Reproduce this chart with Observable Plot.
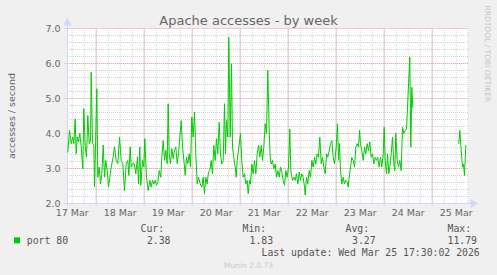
<!DOCTYPE html>
<html><head><meta charset="utf-8">
<script src="https://cdn.jsdelivr.net/npm/d3@7"></script>
<script src="https://cdn.jsdelivr.net/npm/@observablehq/plot@0.6"></script>
<style>
html,body{margin:0;padding:0;background:#f0f0f0;}
#chart{width:497px;height:275px;overflow:hidden;}
#chart svg{display:block;}
</style></head><body><div id="chart"></div>
<script>
const title = "Apache accesses - by week";
const yLabel = "accesses / second";
const seriesName = "port 80";
const vendor = "RRDTOOL / TOBI OETIKER";
const credit = "Munin 2.0.73";
const lastUpdate = "Last update: Wed Mar 25 17:30:02 2026";
const statHeaders = ["Cur:", "Min:", "Avg:", "Max:"];
const statValues = ["2.38", "1.83", "3.27", "11.79"];
const dayLabels = ["17 Mar","18 Mar","19 Mar","20 Mar","21 Mar","22 Mar","23 Mar","24 Mar","25 Mar"];
const yTicks = [2, 3, 4, 5, 6, 7];

// hours since 17 Mar 2026 00:00 (UTC) and accesses/second
const hours = [
9.8,10.65,11.5,12.3,12.8,13.5,14.0,14.5,15.15,15.8,16.5,17.3,17.8,18.5,19.15,19.8,20.5,21.15,21.5,22.15,22.8,23.15,23.65,24.3,24.8,25.5,26.15,26.8,27.5,28.15,28.8,29.5,30.15,30.8,31.5,32.5,33.15,34.0,34.8,35.65,36.5,37.3,38.15,39.0,39.8,40.3,41.0,41.5,42.3,
43.0,43.8,44.65,45.15,45.8,46.3,47.15,47.8,48.3,49.15,50.0,50.8,51.5,52.15,52.8,53.5,54.15,54.8,55.5,56.3,56.8,57.5,58.15,58.8,59.5,60.0,60.5,61.15,61.8,62.5,63.15,63.8,64.5,65.15,65.8,66.5,67.15,68.0,68.5,69.15,69.8,70.5,71.15,71.8,72.5,73.15,73.8,74.5,75.15,76.0,76.8,
77.5,78.15,78.8,79.5,80.15,80.8,81.5,82.15,82.8,83.5,84.15,84.8,85.5,86.15,86.8,87.5,88.15,88.65,89.15,89.8,90.3,91.0,91.65,92.15,92.8,93.5,94.0,94.5,95.3,96.15,96.8,97.5,98.15,98.8,99.5,100.0,100.65,101.15,101.8,102.5,103.15,103.8,104.5,105.15,105.8,106.5,107.15,107.8,108.5,109.15,109.8,110.5,
111.0,111.5,112.15,112.8,113.5,114.15,114.8,115.5,116.15,116.8,117.5,118.15,118.8,119.5,120.15,120.8,121.3,122.15,122.8,123.5,124.15,124.8,125.5,126.15,126.8,127.5,128.15,128.5,129.15,129.8,130.5,131.15,131.8,132.5,133.15,133.8,134.5,135.15,135.8,136.5,137.15,137.8,138.5,139.15,139.8,140.5,141.15,141.8,142.5,143.15,144.0,144.65,
145.15,145.65,146.15,146.8,147.5,148.15,148.8,149.5,150.0,150.5,151.15,151.8,152.5,153.15,153.8,154.5,155.15,155.65,156.15,156.8,157.5,158.15,158.8,159.5,160.15,160.8,161.5,162.15,162.8,163.5,164.15,164.8,165.5,166.15,166.8,167.5,168.0,168.5,169.15,169.65,170.3,170.8,171.5,172.15,172.8,173.3,173.8,174.5,175.15,175.8,176.5,177.15,177.8,178.5,179.15,
180.8,181.3,181.8,182.3,183.0,
205.3,205.8,206.5,207.15,207.65,208.15,208.8
];
const accesses = [
3.47,4.09,3.71,3.9,3.71,4.42,3.42,3.9,3.76,4.0,3.62,2.99,4.71,3.62,3.33,4.51,3.71,3.8,5.75,3.71,3.67,2.47,3.62,5.28,2.75,3.04,2.56,2.85,3.67,2.75,3.23,2.94,2.47,2.75,3.04,3.33,3.62,3.23,3.14,3.9,3.23,3.14,2.37,3.14,3.23,2.8,3.62,3.04,3.14,
3.14,2.85,3.33,2.56,3.62,2.52,3.23,3.04,3.85,2.75,2.37,2.66,2.47,2.66,2.56,2.66,2.52,2.61,2.94,2.75,3.33,3.8,3.23,3.52,3.14,4.85,3.42,3.14,3.57,3.28,3.52,3.62,3.14,3.42,3.9,4.37,3.62,3.14,2.8,3.33,3.14,3.42,3.04,4.47,3.9,4.61,3.42,2.56,2.75,2.56,2.47,
2.75,2.28,2.75,2.56,2.9,2.94,3.23,2.85,3.66,3.23,3.85,3.42,4.32,3.42,3.13,3.23,4.85,3.42,4.37,3.9,6.75,3.9,5.99,3.61,3.32,3.04,2.75,3.23,3.61,4.0,3.23,2.75,2.85,2.56,2.66,2.28,2.66,2.56,3.13,2.85,3.23,2.85,3.42,3.66,3.32,3.66,3.23,3.61,4.28,4.0,5.8,4.09,
3.32,3.13,3.23,2.99,3.13,2.75,2.94,2.75,3.04,2.9,2.66,2.52,2.94,2.75,3.04,4.13,2.94,2.66,2.75,2.66,2.85,2.56,2.9,2.66,2.85,2.75,2.47,2.24,2.75,2.56,2.94,2.75,3.23,3.04,3.32,3.13,3.42,3.32,3.9,3.13,3.32,3.04,2.85,3.42,3.32,3.51,3.71,3.8,3.32,3.13,3.61,4.28,
3.23,3.71,2.94,2.56,2.75,2.56,2.66,2.61,2.47,2.75,3.04,3.32,3.23,3.04,3.61,3.71,3.61,4.09,3.71,3.51,3.23,3.61,3.42,3.71,3.51,3.76,3.32,3.42,3.13,3.32,3.23,3.32,3.04,3.32,3.04,3.42,4.18,3.23,2.85,3.42,2.85,3.04,3.42,3.9,3.13,2.94,4.0,3.23,3.04,3.23,2.94,4.18,4.0,4.09,4.13,
6.18,3.61,5.32,4.75,null,
3.71,4.09,3.51,3.04,3.13,2.8,3.66
];

const base = Date.UTC(2026, 2, 17);
const at = h => new Date(base + h * 3600e3);
const data = hours.map((h, i) => ({t: at(h), v: accesses[i]}));

const W = 497, H = 275, mL = 67, mR = 29, mT = 28, mB = 72;
const xStart = 9.65, xEnd = 210.15;
const sans = "DejaVu Sans, sans-serif", mono = "DejaVu Sans Mono, monospace";
const fontColor = "#666666", axisColor = "#cfd6f8";

const minorV = d3.range(12, 211, 6).map(at);
const majorV = d3.range(24, 200, 24).map(at);
const minorH = d3.range(11, 35).map(i => i / 5);
const majorH = [3, 4, 5, 6, 7];
const dayNoons = d3.range(12, 210, 24).map(at);

// pixel helper for frame-anchored texts (origin = top-left of plot frame)
const txt = (s, X, Y, o = {}) => Plot.text([s], {
  text: d => d, frameAnchor: "top-left", dx: X - mL, dy: Y - mT,
  lineAnchor: "bottom", textAnchor: "start", fontFamily: mono, fontSize: 9.8, fill: "#555", ...o
});

const statX = [140, 242, 345, 447];
const valX = [146.4, 249, 351.5, 447];

const legendSquare = (index, scales, values, dims) => {
  const r = d3.create("svg:rect")
    .attr("x", 14).attr("y", 237.3).attr("width", 6).attr("height", 6)
    .attr("fill", "#00cc00");
  return r.node();
};

const plot = Plot.plot({
  width: W, height: H,
  marginLeft: mL, marginRight: mR, marginTop: mT, marginBottom: mB,
  style: {background: "#f0f0f0", fontFamily: sans, color: fontColor, overflow: "visible"},
  x: {type: "utc", domain: [at(xStart), at(xEnd)], label: null},
  y: {domain: [2, 7], label: null},
  marks: [
    Plot.frame({fill: "white", stroke: null}),
    Plot.ruleX(minorV, {stroke: "#d2d2d2", strokeDasharray: "1,1"}),
    Plot.ruleY(minorH, {stroke: "#d2d2d2", strokeDasharray: "1,1"}),
    Plot.ruleX(majorV, {y1: 1.92, y2: 7, stroke: "#e8a3a3", strokeDasharray: "1,1"}),
    Plot.ruleY(majorH, {x1: at(xStart - 1.2), x2: at(xEnd), stroke: "#e8a3a3", strokeDasharray: "1,1"}),
    Plot.ruleY([2], {x1: at(xStart - 2), x2: at(xEnd + 2), stroke: axisColor}),
    Plot.ruleX([at(xStart)], {y1: 1.92, y2: 7.2, stroke: axisColor}),
    Plot.dot([0], {x: at(xStart), y: 7.16, symbol: "triangle", r: 3.2, fill: axisColor, stroke: null}),
    Plot.dot([0], {x: at(xEnd + 2.3), y: 2, symbol: "triangle", r: 3.2, rotate: 90, fill: axisColor, stroke: null}),
    Plot.line(data, {x: "t", y: "v", stroke: "#00cc00", strokeWidth: 1}),
    Plot.axisY({ticks: yTicks, tickSize: 0, tickPadding: 7, tickFormat: d => d.toFixed(1), fontSize: 9.5, fill: fontColor, label: null}),
    Plot.axisX({ticks: dayNoons, tickSize: 0, tickPadding: 6, tickFormat: (d, i) => dayLabels[i], fontSize: 9.5, fill: fontColor, label: null}),
    txt(title, 248, 24, {textAnchor: "middle", fontFamily: sans, fontSize: 13, fill: fontColor}),
    Plot.text([yLabel], {text: d => d, frameAnchor: "left", dx: 14 - mL, rotate: -90, textAnchor: "middle", lineAnchor: "bottom", fontFamily: sans, fontSize: 9.5, fill: fontColor}),
    txt(vendor, 484.5, 5, {rotate: 90, fontFamily: sans, fontSize: 7.5, fill: "#c4c4c4"}),
    legendSquare,
    txt(seriesName, 26.3, 243),
    ...statHeaders.map((s, i) => txt(s, statX[i], 231)),
    ...statValues.map((s, i) => txt(s, valX[i], 243)),
    txt(lastUpdate, 261, 255),
    txt(credit, 248, 267, {textAnchor: "middle", fontFamily: sans, fontSize: 7.5, fill: "#c8c8c8"})
  ]
});
document.getElementById("chart").appendChild(plot);
</script></body></html>
